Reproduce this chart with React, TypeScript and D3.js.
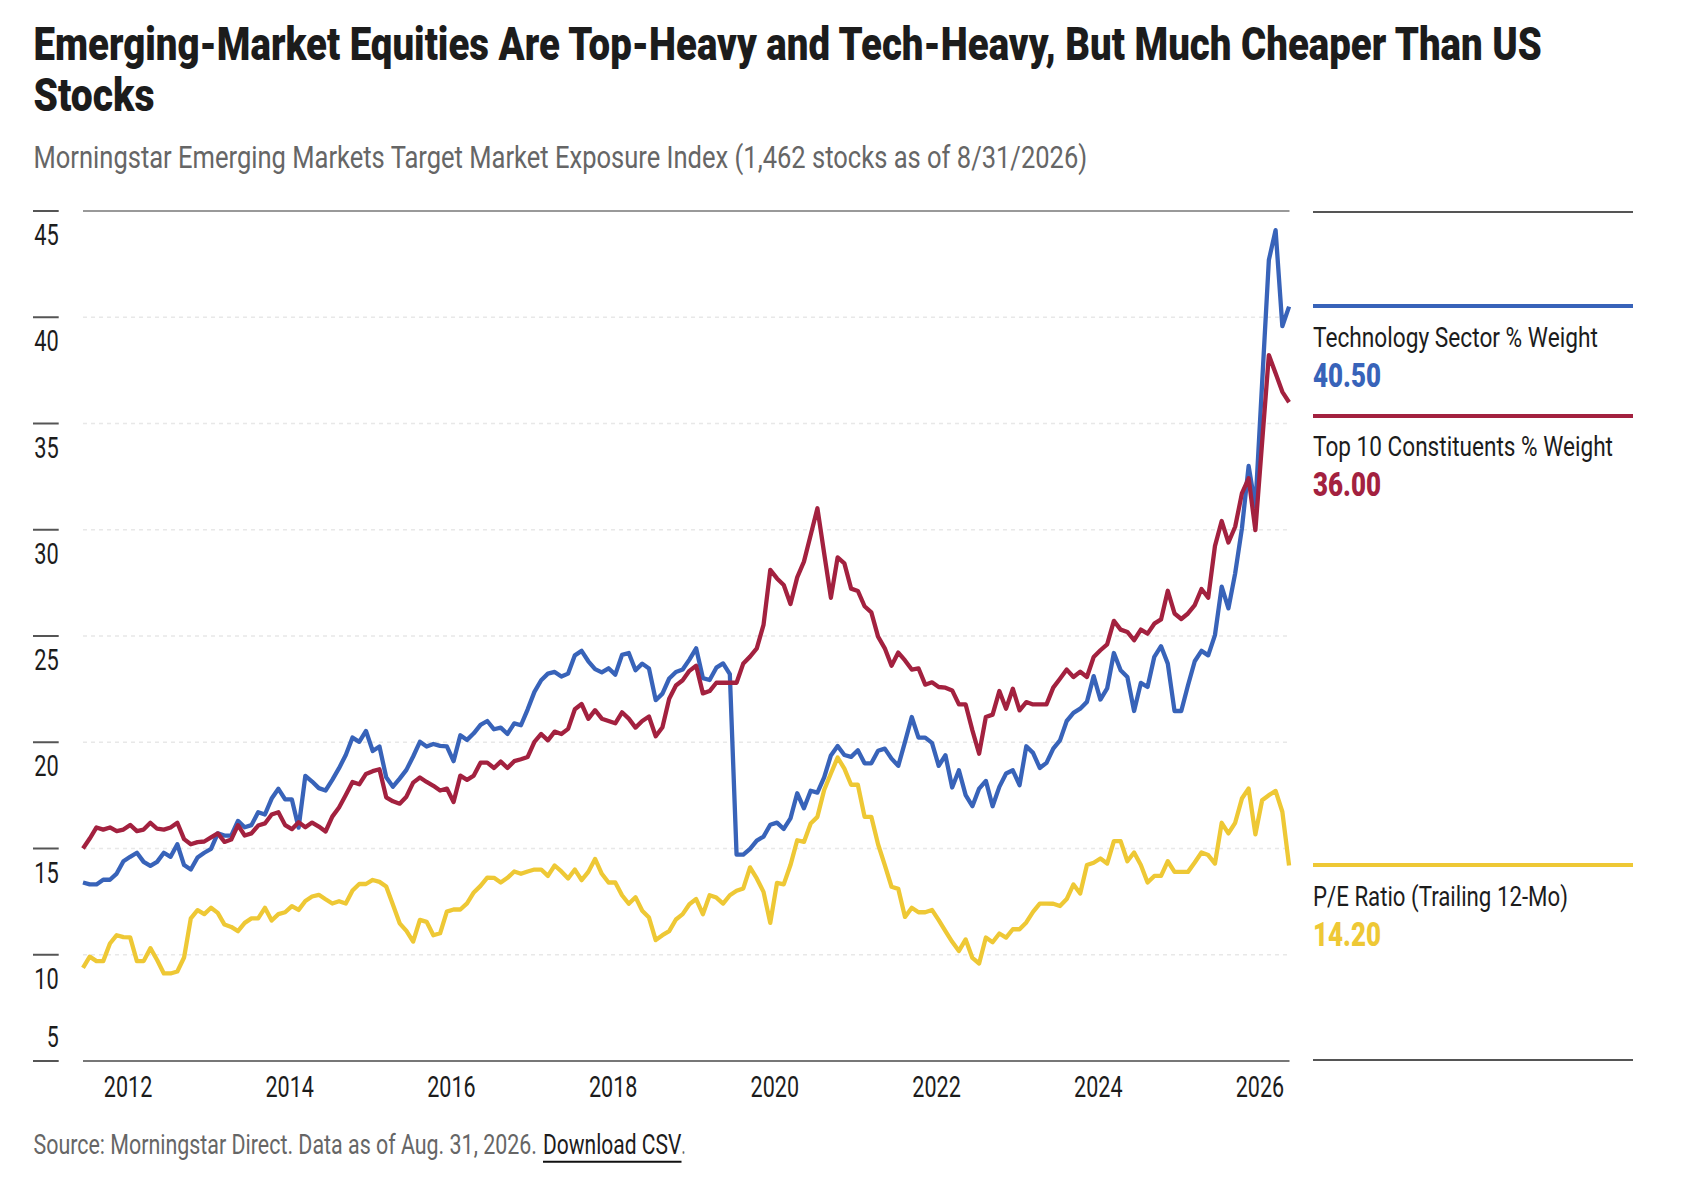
import React from "react";
import * as d3 from "d3";

const startYear = 2011.443;
const yTicks = [45, 40, 35, 30, 25, 20, 15, 10, 5];
const xTicks = [2012, 2014, 2016, 2018, 2020, 2022, 2024, 2026];

const techWeight = [
  13.4, 13.31, 13.31, 13.53, 13.53, 13.82, 14.4, 14.61, 14.8, 14.37, 14.18, 14.37, 14.8, 14.61, 15.2, 14.22, 14.01, 14.58, 14.8, 14.98, 15.71, 15.61, 15.61, 16.3, 16.0, 16.1, 16.71, 16.6, 17.35, 17.81, 17.31, 17.31,
  15.98, 18.42, 18.15, 17.84, 17.73, 18.23, 18.78, 19.4, 20.22, 20.02, 20.53, 19.59, 19.8, 18.35, 17.91, 18.29, 18.7, 19.33, 20.02, 19.8, 19.92, 19.83, 19.81, 19.11, 20.33, 20.11, 20.42, 20.82, 21.0,
  20.61, 20.69, 20.39, 20.89, 20.8, 21.55, 22.37, 22.92, 23.23, 23.31, 23.09, 23.23, 24.09, 24.3, 23.81, 23.44, 23.29, 23.48, 23.18, 24.11, 24.2, 23.39, 23.7, 23.47, 21.98, 22.29, 23.0, 23.31, 23.42, 23.89,
  24.42, 23.02, 22.93, 23.51, 23.71, 23.21, 14.71, 14.71, 14.98, 15.37, 15.56, 16.12, 16.22, 15.92, 16.42, 17.6, 16.89, 17.72, 17.63, 18.35, 19.38, 19.82, 19.4, 19.31, 19.62, 19.01, 19.01, 19.6, 19.7, 19.23,
  18.89, 20.02, 21.19, 20.22, 20.22, 19.97, 18.89, 19.39, 17.87, 18.68, 17.51, 16.99, 17.82, 18.18, 16.99, 17.9, 18.53, 18.68, 17.98, 19.81, 19.5, 18.79, 19.03, 19.7, 20.09, 21.0, 21.38, 21.58, 21.9,
  23.11, 22.01, 22.53, 24.2, 23.39, 23.07, 21.47, 22.79, 22.6, 24.02, 24.52, 23.7, 21.47, 21.47, 22.68, 23.81, 24.3, 24.09, 25.04, 27.32, 26.3, 27.95, 30.06, 33.0, 31.08, 36.9, 42.69, 44.1, 39.58, 40.5,
];

const top10Weight = [
  15.0, 15.47, 15.99, 15.89, 15.99, 15.82, 15.89, 16.11, 15.82, 15.89, 16.21, 15.93, 15.89, 15.99, 16.21, 15.44, 15.2, 15.3, 15.33, 15.52, 15.71, 15.31, 15.42, 16.1, 15.61, 15.71, 16.08, 16.18, 16.6, 16.71, 16.1, 15.91,
  16.24, 16.0, 16.22, 16.03, 15.8, 16.5, 16.93, 17.52, 18.13, 18.02, 18.51, 18.64, 18.73, 17.41, 17.22, 17.11, 17.44, 18.1, 18.34, 18.13, 17.95, 17.73, 17.82, 17.19, 18.43, 18.23, 18.43, 19.04, 19.04,
  18.79, 19.09, 18.79, 19.11, 19.2, 19.31, 20.02, 20.39, 20.09, 20.5, 20.39, 20.63, 21.55, 21.8, 21.1, 21.51, 21.11, 21.0, 20.89, 21.41, 21.11, 20.69, 21.0, 21.21, 20.28, 20.71, 22.05, 22.67, 22.92, 23.36,
  23.6, 22.3, 22.41, 22.8, 22.8, 22.8, 22.8, 23.71, 24.03, 24.42, 25.52, 28.11, 27.71, 27.4, 26.51, 27.76, 28.5, 29.75, 31.01, 28.89, 26.8, 28.7, 28.42, 27.23, 27.12, 26.4, 26.11, 24.97, 24.42, 23.6,
  24.22, 23.85, 23.42, 23.48, 22.71, 22.82, 22.6, 22.57, 22.44, 21.78, 21.78, 20.56, 19.46, 21.19, 21.3, 22.41, 21.58, 22.52, 21.5, 21.89, 21.78, 21.78, 21.78, 22.57, 22.99, 23.42, 23.07, 23.32, 23.07,
  24.01, 24.33, 24.61, 25.71, 25.3, 25.19, 24.8, 25.3, 25.11, 25.58, 25.78, 27.13, 26.06, 25.8, 26.06, 26.45, 27.21, 26.8, 29.23, 30.41, 29.4, 30.14, 31.71, 32.42, 29.98, 34.11, 38.22, 37.36, 36.49, 36.0,
];

const peRatio = [
  9.38, 9.91, 9.7, 9.7, 10.53, 10.92, 10.83, 10.82, 9.7, 9.7, 10.31, 9.75, 9.12, 9.12, 9.21, 9.87, 11.71, 12.1, 11.91, 12.21, 11.97, 11.42, 11.31, 11.11, 11.5, 11.71, 11.71, 12.21, 11.61, 11.91, 12.0, 12.29,
  12.11, 12.53, 12.74, 12.82, 12.61, 12.41, 12.52, 12.41, 13.02, 13.33, 13.33, 13.52, 13.43, 13.21, 12.35, 11.48, 11.12, 10.62, 11.64, 11.55, 10.92, 11.01, 12.03, 12.13, 12.13, 12.42, 12.93, 13.24, 13.63,
  13.62, 13.4, 13.62, 13.92, 13.81, 13.92, 14.01, 14.01, 13.71, 14.2, 13.92, 13.59, 14.01, 13.51, 13.9, 14.51, 13.81, 13.4, 13.4, 12.8, 12.4, 12.71, 12.07, 11.75, 10.69, 10.92, 11.11, 11.66, 11.91, 12.38,
  12.62, 11.91, 12.8, 12.69, 12.41, 12.8, 13.01, 13.12, 14.11, 13.59, 12.96, 11.5, 13.38, 13.31, 14.22, 15.39, 15.31, 16.18, 16.49, 17.75, 18.53, 19.28, 18.76, 18.0, 18.0, 16.49, 16.49, 15.2, 14.22, 13.2,
  13.1, 11.78, 12.21, 12.0, 12.0, 12.11, 11.63, 11.11, 10.61, 10.18, 10.72, 9.85, 9.59, 10.81, 10.59, 11.0, 10.81, 11.2, 11.2, 11.52, 12.02, 12.41, 12.41, 12.4, 12.29, 12.62, 13.31, 12.88, 14.22,
  14.33, 14.53, 14.29, 15.35, 15.35, 14.4, 14.81, 14.22, 13.4, 13.71, 13.71, 14.4, 13.9, 13.9, 13.9, 14.34, 14.81, 14.69, 14.29, 16.21, 15.71, 16.21, 17.35, 17.82, 15.67, 17.27, 17.51, 17.71, 16.73, 14.2,
];

const BLUE = "#3863B9";
const RED = "#A3213F";
const YELLOW = "#EEC835";
const INK = "#1c1c1c";
const GREY = "#666666";
const FONT = "Roboto, 'Liberation Sans', sans-serif";

const x = d3.scaleLinear().domain([startYear, 2026.365]).range([83, 1289.5]);
const y = d3.scaleLinear().domain([5, 45]).range([1061, 211]);

const line = d3
  .line<number>()
  .x((_, i) => x(startYear + i / 12))
  .y((d) => y(d))
  .curve(d3.curveLinear);

const measureCtx = document.createElement("canvas").getContext("2d");
function naturalWidth(text: string, size: number, weight: number) {
  if (!measureCtx) return text.length * size * 0.5;
  measureCtx.font = `${weight} ${size}px ${FONT}`;
  return measureCtx.measureText(text).width;
}

// Text squeezed horizontally to the reference's condensed width.
function T(props: {
  x: number;
  y: number;
  w: number;
  size: number;
  fill: string;
  weight?: number;
  anchor?: "start" | "middle" | "end";
  children: string;
}) {
  const weight = props.weight ?? 400;
  const text = String(props.children);
  const sx = props.w / naturalWidth(text, props.size, weight);
  return (
    <text
      transform={`translate(${props.x},${props.y}) scale(${sx},1)`}
      fontSize={props.size}
      fontFamily={FONT}
      fontWeight={weight}
      fill={props.fill}
      textAnchor={props.anchor ?? "start"}
    >
      {text}
    </text>
  );
}

const legend = [
  { label: "Technology Sector % Weight", value: "40.50", color: BLUE, rule: 306, base: 346.5, vbase: 386.5, w: 285 },
  { label: "Top 10 Constituents % Weight", value: "36.00", color: RED, rule: 416, base: 455.5, vbase: 495.5, w: 300 },
  { label: "P/E Ratio (Trailing 12-Mo)", value: "14.20", color: YELLOW, rule: 865, base: 905.5, vbase: 945.5, w: 255 },
];

export default function App() {
  return (
    <svg
      width={1690}
      height={1200}
      viewBox="0 0 1690 1200"
      style={{ position: "absolute", left: 0, top: 0, background: "#fff" }}
    >
      <T x={33.5} y={59.5} w={1512} size={47} weight={900} fill={INK}>
        Emerging-Market Equities Are Top-Heavy and Tech-Heavy, But Much Cheaper Than US
      </T>
      <T x={33.5} y={110.5} w={121} size={47} weight={900} fill={INK}>
        Stocks
      </T>
      <T x={33.5} y={167.5} w={1054.5} size={32} fill={GREY}>
        Morningstar Emerging Markets Target Market Exposure Index (1,462 stocks as of 8/31/2026)
      </T>

      {yTicks.map((t) => (
        <g key={t}>
          <line x1={33} x2={58.7} y1={y(t)} y2={y(t)} stroke="#555" strokeWidth={2} />
          {t !== 45 && t !== 5 && (
            <line x1={83} x2={1287} y1={y(t)} y2={y(t)} stroke="#e8e8e8" strokeWidth={1.6} strokeDasharray="4 4" />
          )}
          <T
            x={58.7}
            y={t === 5 ? y(t) - 14 : y(t) + 34}
            w={t === 5 ? 12 : 24.5}
            size={29}
            fill={INK}
            anchor="end"
          >
            {String(t)}
          </T>
        </g>
      ))}
      <line x1={83} x2={1289.5} y1={y(45)} y2={y(45)} stroke="#777" strokeWidth={1.5} />
      <line x1={83} x2={1289.5} y1={y(5)} y2={y(5)} stroke="#777" strokeWidth={2} />

      {xTicks.map((t) => (
        <T key={t} x={x(t)} y={1096.7} w={48.5} size={29} fill={INK} anchor="middle">
          {String(t)}
        </T>
      ))}

      <path d={line(peRatio) ?? ""} fill="none" stroke={YELLOW} strokeWidth={4.3} strokeLinejoin="round" />
      <path d={line(techWeight) ?? ""} fill="none" stroke={BLUE} strokeWidth={4.3} strokeLinejoin="round" />
      <path d={line(top10Weight) ?? ""} fill="none" stroke={RED} strokeWidth={4.3} strokeLinejoin="round" />

      <line x1={1313} x2={1633} y1={212} y2={212} stroke="#555" strokeWidth={2} />
      <line x1={1313} x2={1633} y1={1060} y2={1060} stroke="#555" strokeWidth={2} />
      {legend.map((l) => (
        <g key={l.label}>
          <line x1={1313} x2={1633} y1={l.rule} y2={l.rule} stroke={l.color} strokeWidth={3.8} />
          <T x={1313} y={l.base} w={l.w} size={28} fill={INK}>
            {l.label}
          </T>
          <T x={1313} y={l.vbase} w={68} size={33} weight={900} fill={l.color}>
            {l.value}
          </T>
        </g>
      ))}

      <T x={33.5} y={1153.8} w={503.5} size={27} fill={GREY}>
        Source: Morningstar Direct. Data as of Aug. 31, 2026.
      </T>
      <T x={543} y={1153.8} w={138.5} size={27} fill={INK}>
        Download CSV
      </T>
      <T x={681.5} y={1153.8} w={4} size={27} fill={GREY}>
        .
      </T>
      <line x1={543} x2={681.5} y1={1161.8} y2={1161.8} stroke="#111" strokeWidth={2} />
    </svg>
  );
}
